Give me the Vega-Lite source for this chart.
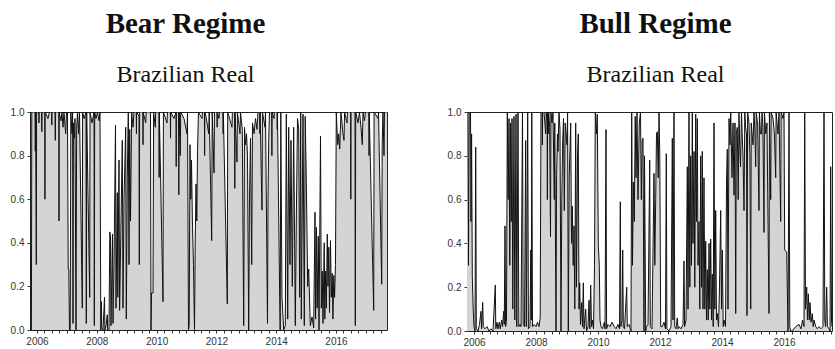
{
  "$schema": "https://vega.github.io/schema/vega-lite/v6.json",
  "background": "white",
  "padding": {"left": 9, "top": 9, "right": 2, "bottom": 0},
  "spacing": 58,
  "config": {
    "view": {"stroke": "#222", "strokeWidth": 1},
    "axis": {"labelFont": "Liberation Sans", "labelFontSize": 10, "labelColor": "#333", "tickColor": "#333", "domain": false, "grid": false, "tickSize": 3, "labelPadding": 3},
    "title": {"font": "Liberation Serif", "fontSize": 29, "fontWeight": "bold", "color": "#111", "subtitleFont": "Liberation Serif", "subtitleFontSize": 24, "subtitleColor": "#111", "subtitlePadding": 24, "offset": 20, "anchor": "middle"}
  },
  "datasets": {
    "bear": [
      {"t":2006.266,"p":1},{"t":2006.279,"p":0},{"t":2006.313,"p":0},{"t":2006.326,"p":1},{"t":2006.433,"p":1},{"t":2006.443,"p":0.82},{"t":2006.453,"p":1},{"t":2006.477,"p":0.3},{"t":2006.487,"p":1},{"t":2006.560,"p":1},{"t":2006.566,"p":0.95},{"t":2006.572,"p":1},{"t":2006.651,"p":1},{"t":2006.661,"p":0.91},{"t":2006.671,"p":1},{"t":2006.760,"p":1},{"t":2006.766,"p":0.6},{"t":2006.772,"p":1},{"t":2006.868,"p":0.97},{"t":2006.918,"p":1},{"t":2006.990,"p":1},{"t":2006.996,"p":0.94},{"t":2007.002,"p":1},{"t":2007.102,"p":1},{"t":2007.112,"p":0.87},{"t":2007.122,"p":1},{"t":2007.230,"p":1},{"t":2007.236,"p":0.5},{"t":2007.242,"p":1},{"t":2007.303,"p":0.96},{"t":2007.336,"p":1},{"t":2007.370,"p":0.93},{"t":2007.403,"p":1},{"t":2007.460,"p":0.9},{"t":2007.487,"p":1},{"t":2007.520,"p":1},{"t":2007.544,"p":0.28},{"t":2007.564,"p":0.28},{"t":2007.587,"p":0},{"t":2007.611,"p":0},{"t":2007.631,"p":1},{"t":2007.671,"p":0.9},{"t":2007.691,"p":1},{"t":2007.704,"p":0.03},{"t":2007.718,"p":0.95},{"t":2007.754,"p":0.88},{"t":2007.771,"p":0.97},{"t":2007.805,"p":0},{"t":2007.825,"p":0.92},{"t":2007.855,"p":1},{"t":2007.888,"p":0.9},{"t":2007.922,"p":1},{"t":2008.015,"p":0.1},{"t":2008.025,"p":1},{"t":2008.072,"p":0.97},{"t":2008.139,"p":1},{"t":2008.149,"p":0.03},{"t":2008.162,"p":1},{"t":2008.263,"p":0.15},{"t":2008.273,"p":1},{"t":2008.340,"p":0.95},{"t":2008.407,"p":1},{"t":2008.417,"p":0.02},{"t":2008.430,"p":1},{"t":2008.473,"p":0.97},{"t":2008.524,"p":1},{"t":2008.574,"p":0.96},{"t":2008.607,"p":1},{"t":2008.634,"p":0},{"t":2008.654,"p":0.13},{"t":2008.667,"p":0.01},{"t":2008.708,"p":0},{"t":2008.758,"p":0.15},{"t":2008.771,"p":0},{"t":2008.808,"p":0.02},{"t":2008.851,"p":0.07},{"t":2008.865,"p":0},{"t":2008.908,"p":0},{"t":2008.935,"p":0.45},{"t":2008.958,"p":0.43},{"t":2008.975,"p":0.02},{"t":2009.025,"p":0.44},{"t":2009.042,"p":0.03},{"t":2009.075,"p":0.3},{"t":2009.126,"p":0.94},{"t":2009.142,"p":0.1},{"t":2009.186,"p":0.63},{"t":2009.202,"p":0.15},{"t":2009.243,"p":0.78},{"t":2009.263,"p":0.09},{"t":2009.310,"p":0.5},{"t":2009.353,"p":0.87},{"t":2009.376,"p":0.1},{"t":2009.410,"p":0.6},{"t":2009.467,"p":0.93},{"t":2009.487,"p":0.05},{"t":2009.520,"p":0.7},{"t":2009.554,"p":1},{"t":2009.577,"p":0.3},{"t":2009.601,"p":0.92},{"t":2009.627,"p":0.5},{"t":2009.667,"p":1},{"t":2009.711,"p":0.93},{"t":2009.744,"p":1},{"t":2009.820,"p":1},{"t":2009.826,"p":0.9},{"t":2009.832,"p":1},{"t":2009.912,"p":0.98},{"t":2009.922,"p":0.3},{"t":2009.932,"p":1},{"t":2010.040,"p":1},{"t":2010.046,"p":0.85},{"t":2010.052,"p":1},{"t":2010.136,"p":0.95},{"t":2010.152,"p":1},{"t":2010.296,"p":1},{"t":2010.313,"p":0},{"t":2010.330,"p":0.17},{"t":2010.380,"p":0.17},{"t":2010.400,"p":1},{"t":2010.457,"p":0.93},{"t":2010.470,"p":1},{"t":2010.580,"p":1},{"t":2010.586,"p":0.7},{"t":2010.592,"p":1},{"t":2010.714,"p":0.13},{"t":2010.728,"p":1},{"t":2010.848,"p":0.95},{"t":2010.865,"p":1},{"t":2010.960,"p":1},{"t":2010.966,"p":0.88},{"t":2010.972,"p":1},{"t":2011.082,"p":0.97},{"t":2011.150,"p":1},{"t":2011.156,"p":0.75},{"t":2011.162,"p":1},{"t":2011.233,"p":1},{"t":2011.243,"p":0.62},{"t":2011.256,"p":1},{"t":2011.293,"p":0.8},{"t":2011.306,"p":1},{"t":2011.417,"p":0.97},{"t":2011.517,"p":0.9},{"t":2011.534,"p":1},{"t":2011.567,"p":0},{"t":2011.590,"p":0.02},{"t":2011.617,"p":0.85},{"t":2011.644,"p":0.6},{"t":2011.667,"p":0.78},{"t":2011.701,"p":0.47},{"t":2011.734,"p":0.3},{"t":2011.768,"p":0},{"t":2011.791,"p":0.4},{"t":2011.818,"p":0.67},{"t":2011.845,"p":0.5},{"t":2011.868,"p":0.82},{"t":2011.901,"p":1},{"t":2012.019,"p":0.97},{"t":2012.035,"p":1},{"t":2012.100,"p":1},{"t":2012.106,"p":0.8},{"t":2012.112,"p":1},{"t":2012.152,"p":0.98},{"t":2012.243,"p":0.9},{"t":2012.259,"p":1},{"t":2012.343,"p":0.41},{"t":2012.360,"p":1},{"t":2012.420,"p":0.72},{"t":2012.437,"p":1},{"t":2012.520,"p":1},{"t":2012.526,"p":0.93},{"t":2012.532,"p":1},{"t":2012.587,"p":0.97},{"t":2012.604,"p":1},{"t":2012.720,"p":1},{"t":2012.726,"p":0.9},{"t":2012.732,"p":1},{"t":2012.865,"p":0.12},{"t":2012.878,"p":1},{"t":2013.022,"p":0.93},{"t":2013.035,"p":1},{"t":2013.110,"p":1},{"t":2013.116,"p":0.65},{"t":2013.122,"p":1},{"t":2013.189,"p":0.77},{"t":2013.203,"p":1},{"t":2013.290,"p":0.9},{"t":2013.306,"p":1},{"t":2013.366,"p":0.92},{"t":2013.413,"p":0.02},{"t":2013.440,"p":0.93},{"t":2013.473,"p":0.85},{"t":2013.507,"p":0.9},{"t":2013.540,"p":0.8},{"t":2013.580,"p":0},{"t":2013.607,"p":0.6},{"t":2013.641,"p":0.88},{"t":2013.681,"p":0.3},{"t":2013.708,"p":0.95},{"t":2013.758,"p":0.9},{"t":2013.808,"p":0.97},{"t":2013.858,"p":0.92},{"t":2013.891,"p":1},{"t":2013.950,"p":1},{"t":2013.956,"p":0.9},{"t":2013.962,"p":1},{"t":2014.025,"p":0.55},{"t":2014.039,"p":1},{"t":2014.126,"p":0.93},{"t":2014.142,"p":1},{"t":2014.209,"p":0.03},{"t":2014.226,"p":0.6},{"t":2014.249,"p":0.87},{"t":2014.276,"p":1},{"t":2014.350,"p":1},{"t":2014.356,"p":0.8},{"t":2014.362,"p":1},{"t":2014.427,"p":0.97},{"t":2014.443,"p":1},{"t":2014.530,"p":1},{"t":2014.536,"p":0.92},{"t":2014.542,"p":1},{"t":2014.617,"p":0.15},{"t":2014.634,"p":0},{"t":2014.654,"p":1},{"t":2014.694,"p":0.15},{"t":2014.751,"p":0},{"t":2014.805,"p":0.02},{"t":2014.838,"p":0.99},{"t":2014.885,"p":0.05},{"t":2014.918,"p":0.93},{"t":2014.962,"p":0.3},{"t":2014.995,"p":0.87},{"t":2015.039,"p":0.2},{"t":2015.085,"p":0.93},{"t":2015.139,"p":0.02},{"t":2015.172,"p":0.5},{"t":2015.213,"p":0.97},{"t":2015.253,"p":0.92},{"t":2015.286,"p":0.15},{"t":2015.320,"p":1},{"t":2015.340,"p":0.05},{"t":2015.397,"p":0.99},{"t":2015.440,"p":0.02},{"t":2015.470,"p":0.98},{"t":2015.507,"p":0.69},{"t":2015.554,"p":0.2},{"t":2015.587,"p":0.28},{"t":2015.641,"p":0.02},{"t":2015.698,"p":0.06},{"t":2015.754,"p":0.01},{"t":2015.798,"p":0.54},{"t":2015.818,"p":0.05},{"t":2015.848,"p":0.47},{"t":2015.871,"p":0.1},{"t":2015.908,"p":0.43},{"t":2015.932,"p":0},{"t":2015.982,"p":0.89},{"t":2016.009,"p":0.1},{"t":2016.039,"p":0.27},{"t":2016.065,"p":0.03},{"t":2016.106,"p":0.4},{"t":2016.126,"p":0.05},{"t":2016.149,"p":0.27},{"t":2016.176,"p":0.1},{"t":2016.209,"p":0.44},{"t":2016.233,"p":0.2},{"t":2016.259,"p":0.38},{"t":2016.283,"p":0.08},{"t":2016.316,"p":0.41},{"t":2016.343,"p":0.15},{"t":2016.373,"p":0.26},{"t":2016.397,"p":0.05},{"t":2016.427,"p":0.25},{"t":2016.453,"p":0.15},{"t":2016.483,"p":0.3},{"t":2016.510,"p":1},{"t":2016.557,"p":0.85},{"t":2016.591,"p":0.9},{"t":2016.624,"p":0.83},{"t":2016.667,"p":1},{"t":2016.734,"p":0.9},{"t":2016.768,"p":0.87},{"t":2016.788,"p":1},{"t":2016.868,"p":0.95},{"t":2016.885,"p":1},{"t":2016.990,"p":1},{"t":2016.996,"p":0.6},{"t":2017.002,"p":1},{"t":2017.136,"p":1},{"t":2017.146,"p":0.02},{"t":2017.159,"p":1},{"t":2017.236,"p":0.95},{"t":2017.286,"p":1},{"t":2017.336,"p":0.93},{"t":2017.380,"p":0.85},{"t":2017.403,"p":1},{"t":2017.453,"p":0.96},{"t":2017.487,"p":1},{"t":2017.600,"p":1},{"t":2017.606,"p":0.8},{"t":2017.612,"p":1},{"t":2017.761,"p":0.09},{"t":2017.774,"p":1},{"t":2017.905,"p":0.97},{"t":2017.922,"p":1},{"t":2018.029,"p":0.21},{"t":2018.045,"p":0.85},{"t":2018.072,"p":1},{"t":2018.106,"p":0.8},{"t":2018.122,"p":1},{"t":2018.206,"p":1}
    ],
    "bull": [
      {"t":2006.274,"p":1},{"t":2006.306,"p":1},{"t":2006.322,"p":0.3},{"t":2006.345,"p":1},{"t":2006.387,"p":1},{"t":2006.403,"p":0.5},{"t":2006.422,"p":0.9},{"t":2006.445,"p":0.25},{"t":2006.474,"p":0.1},{"t":2006.500,"p":0.02},{"t":2006.532,"p":0},{"t":2006.555,"p":0.84},{"t":2006.574,"p":0.01},{"t":2006.629,"p":0},{"t":2006.677,"p":0.03},{"t":2006.726,"p":0.09},{"t":2006.745,"p":0.01},{"t":2006.780,"p":0.13},{"t":2006.800,"p":0.02},{"t":2006.855,"p":0.01},{"t":2006.919,"p":0.02},{"t":2006.984,"p":0},{"t":2007.048,"p":0.01},{"t":2007.113,"p":0},{"t":2007.187,"p":0.21},{"t":2007.203,"p":0.01},{"t":2007.242,"p":0.04},{"t":2007.274,"p":0.01},{"t":2007.316,"p":0.04},{"t":2007.345,"p":0.01},{"t":2007.393,"p":0.05},{"t":2007.419,"p":0.02},{"t":2007.458,"p":0.09},{"t":2007.477,"p":0.03},{"t":2007.500,"p":0.48},{"t":2007.519,"p":0.02},{"t":2007.548,"p":0.05},{"t":2007.574,"p":1},{"t":2007.603,"p":0.6},{"t":2007.629,"p":0.97},{"t":2007.655,"p":0.3},{"t":2007.677,"p":0.95},{"t":2007.703,"p":0.5},{"t":2007.726,"p":0.97},{"t":2007.751,"p":0.1},{"t":2007.790,"p":0.98},{"t":2007.816,"p":0.05},{"t":2007.855,"p":0.99},{"t":2007.880,"p":0.02},{"t":2007.919,"p":1},{"t":2007.945,"p":0.02},{"t":2007.984,"p":0.03},{"t":2008.016,"p":0.02},{"t":2008.064,"p":1},{"t":2008.087,"p":0.03},{"t":2008.129,"p":0.02},{"t":2008.167,"p":0.87},{"t":2008.187,"p":0.02},{"t":2008.232,"p":1},{"t":2008.255,"p":0.01},{"t":2008.306,"p":0.02},{"t":2008.332,"p":0.37},{"t":2008.348,"p":0.05},{"t":2008.364,"p":1},{"t":2008.387,"p":0.02},{"t":2008.445,"p":0.03},{"t":2008.500,"p":0.02},{"t":2008.548,"p":0.04},{"t":2008.597,"p":0.02},{"t":2008.635,"p":0.06},{"t":2008.661,"p":1},{"t":2008.700,"p":1},{"t":2008.706,"p":0.85},{"t":2008.712,"p":1},{"t":2008.758,"p":1},{"t":2008.813,"p":0.9},{"t":2008.829,"p":1},{"t":2008.860,"p":0.95},{"t":2008.866,"p":0.6},{"t":2008.872,"p":1},{"t":2008.897,"p":0.9},{"t":2008.910,"p":1},{"t":2008.940,"p":0.93},{"t":2008.968,"p":0.43},{"t":2008.981,"p":1},{"t":2009.016,"p":0.95},{"t":2009.048,"p":1},{"t":2009.090,"p":0.6},{"t":2009.106,"p":0.95},{"t":2009.145,"p":0},{"t":2009.164,"p":0.71},{"t":2009.193,"p":0.9},{"t":2009.210,"p":0.82},{"t":2009.242,"p":1},{"t":2009.274,"p":0.92},{"t":2009.306,"p":0},{"t":2009.332,"p":0.6},{"t":2009.361,"p":0.87},{"t":2009.387,"p":0.97},{"t":2009.413,"p":0.55},{"t":2009.442,"p":0.95},{"t":2009.500,"p":0.85},{"t":2009.519,"p":1},{"t":2009.542,"p":0},{"t":2009.571,"p":0.7},{"t":2009.619,"p":0.95},{"t":2009.645,"p":0.4},{"t":2009.671,"p":0.57},{"t":2009.700,"p":0.3},{"t":2009.726,"p":0.48},{"t":2009.751,"p":0.1},{"t":2009.780,"p":0.95},{"t":2009.806,"p":0.2},{"t":2009.839,"p":0.8},{"t":2009.864,"p":0.9},{"t":2009.887,"p":0.1},{"t":2009.910,"p":0.22},{"t":2009.935,"p":0.03},{"t":2009.974,"p":0.13},{"t":2010.000,"p":0.02},{"t":2010.026,"p":0.22},{"t":2010.048,"p":0.01},{"t":2010.103,"p":0.1},{"t":2010.129,"p":0},{"t":2010.177,"p":0.02},{"t":2010.210,"p":0.14},{"t":2010.235,"p":0.01},{"t":2010.264,"p":0.21},{"t":2010.290,"p":0.02},{"t":2010.316,"p":0.05},{"t":2010.355,"p":0.01},{"t":2010.387,"p":0.3},{"t":2010.413,"p":1},{"t":2010.451,"p":0.9},{"t":2010.477,"p":0.99},{"t":2010.510,"p":0.39},{"t":2010.542,"p":0.3},{"t":2010.564,"p":0.05},{"t":2010.597,"p":0.02},{"t":2010.645,"p":0.01},{"t":2010.703,"p":0.04},{"t":2010.726,"p":0.01},{"t":2010.758,"p":0.92},{"t":2010.777,"p":0.01},{"t":2010.822,"p":0.03},{"t":2010.887,"p":0.02},{"t":2010.951,"p":0.04},{"t":2011.026,"p":0.02},{"t":2011.081,"p":0.01},{"t":2011.145,"p":0.03},{"t":2011.193,"p":0.01},{"t":2011.219,"p":0.59},{"t":2011.239,"p":0.02},{"t":2011.274,"p":0.05},{"t":2011.297,"p":0.37},{"t":2011.316,"p":0.02},{"t":2011.355,"p":0.01},{"t":2011.426,"p":0.2},{"t":2011.445,"p":0.02},{"t":2011.500,"p":0.03},{"t":2011.564,"p":0},{"t":2011.587,"p":1},{"t":2011.613,"p":0.3},{"t":2011.639,"p":0.68},{"t":2011.671,"p":0.5},{"t":2011.700,"p":0.98},{"t":2011.726,"p":0.7},{"t":2011.758,"p":1},{"t":2011.790,"p":0.6},{"t":2011.832,"p":0.95},{"t":2011.871,"p":1},{"t":2011.897,"p":0.6},{"t":2011.926,"p":0.87},{"t":2011.951,"p":0.88},{"t":2011.984,"p":0},{"t":2012.000,"p":0.8},{"t":2012.039,"p":0},{"t":2012.064,"p":0.02},{"t":2012.113,"p":0.03},{"t":2012.168,"p":0.78},{"t":2012.187,"p":0.02},{"t":2012.242,"p":0.01},{"t":2012.306,"p":0.72},{"t":2012.332,"p":0.3},{"t":2012.361,"p":0.6},{"t":2012.387,"p":0.9},{"t":2012.413,"p":0.91},{"t":2012.442,"p":0.7},{"t":2012.468,"p":1},{"t":2012.493,"p":0.8},{"t":2012.522,"p":0.02},{"t":2012.574,"p":0.02},{"t":2012.629,"p":0.04},{"t":2012.677,"p":0.01},{"t":2012.703,"p":0.81},{"t":2012.722,"p":0.01},{"t":2012.790,"p":0},{"t":2012.855,"p":0.02},{"t":2012.897,"p":0.88},{"t":2012.919,"p":0.05},{"t":2012.951,"p":1},{"t":2012.974,"p":0.02},{"t":2013.016,"p":0.01},{"t":2013.058,"p":0.06},{"t":2013.081,"p":0.01},{"t":2013.113,"p":0.02},{"t":2013.177,"p":0.01},{"t":2013.242,"p":0.03},{"t":2013.274,"p":0.32},{"t":2013.293,"p":0.02},{"t":2013.339,"p":0.05},{"t":2013.381,"p":0.75},{"t":2013.403,"p":0.1},{"t":2013.435,"p":1},{"t":2013.461,"p":0.2},{"t":2013.490,"p":0.8},{"t":2013.516,"p":0.3},{"t":2013.542,"p":1},{"t":2013.564,"p":0.4},{"t":2013.597,"p":0.82},{"t":2013.622,"p":0.2},{"t":2013.651,"p":0.99},{"t":2013.677,"p":0.5},{"t":2013.703,"p":0.97},{"t":2013.726,"p":0.3},{"t":2013.758,"p":0.5},{"t":2013.784,"p":0.1},{"t":2013.813,"p":0.8},{"t":2013.839,"p":0.2},{"t":2013.864,"p":0.82},{"t":2013.887,"p":0.1},{"t":2013.919,"p":0.7},{"t":2013.945,"p":0.1},{"t":2013.974,"p":0.41},{"t":2014.000,"p":0.05},{"t":2014.026,"p":0.28},{"t":2014.055,"p":0.05},{"t":2014.081,"p":0.4},{"t":2014.106,"p":0.1},{"t":2014.135,"p":0.42},{"t":2014.161,"p":0.05},{"t":2014.187,"p":0.26},{"t":2014.216,"p":0.02},{"t":2014.242,"p":0.95},{"t":2014.268,"p":0.1},{"t":2014.297,"p":0.55},{"t":2014.322,"p":0.05},{"t":2014.348,"p":0.08},{"t":2014.387,"p":0.02},{"t":2014.419,"p":0.2},{"t":2014.458,"p":0.55},{"t":2014.484,"p":0.1},{"t":2014.510,"p":0.37},{"t":2014.539,"p":0.02},{"t":2014.564,"p":0.05},{"t":2014.613,"p":0.02},{"t":2014.645,"p":0.67},{"t":2014.671,"p":0.83},{"t":2014.693,"p":0.1},{"t":2014.726,"p":0.97},{"t":2014.758,"p":0.85},{"t":2014.781,"p":1},{"t":2014.822,"p":0.7},{"t":2014.855,"p":0.95},{"t":2014.887,"p":0.62},{"t":2014.919,"p":0.95},{"t":2014.942,"p":0.08},{"t":2014.961,"p":0.9},{"t":2014.993,"p":0.93},{"t":2015.022,"p":0.6},{"t":2015.048,"p":1},{"t":2015.070,"p":0.85},{"t":2015.097,"p":0.75},{"t":2015.129,"p":1},{"t":2015.150,"p":0.9},{"t":2015.177,"p":0.8},{"t":2015.210,"p":0.55},{"t":2015.235,"p":1},{"t":2015.260,"p":0.93},{"t":2015.290,"p":0.9},{"t":2015.306,"p":0.07},{"t":2015.326,"p":1},{"t":2015.371,"p":0.95},{"t":2015.400,"p":0.8},{"t":2015.426,"p":0.1},{"t":2015.442,"p":0.95},{"t":2015.470,"p":0.9},{"t":2015.500,"p":0.85},{"t":2015.532,"p":1},{"t":2015.560,"p":0.92},{"t":2015.587,"p":0.75},{"t":2015.603,"p":1},{"t":2015.650,"p":0.94},{"t":2015.693,"p":0.55},{"t":2015.706,"p":1},{"t":2015.740,"p":0.9},{"t":2015.774,"p":0.9},{"t":2015.790,"p":1},{"t":2015.820,"p":0.93},{"t":2015.855,"p":0.45},{"t":2015.868,"p":1},{"t":2015.910,"p":0.9},{"t":2015.951,"p":0.95},{"t":2016.016,"p":0.08},{"t":2016.029,"p":1},{"t":2016.071,"p":0.6},{"t":2016.084,"p":1},{"t":2016.145,"p":0.97},{"t":2016.190,"p":0.9},{"t":2016.232,"p":0.7},{"t":2016.245,"p":1},{"t":2016.306,"p":0.9},{"t":2016.339,"p":1},{"t":2016.393,"p":0.5},{"t":2016.406,"p":1},{"t":2016.468,"p":0.97},{"t":2016.500,"p":1},{"t":2016.522,"p":0.37},{"t":2016.587,"p":0.36},{"t":2016.629,"p":0},{"t":2016.661,"p":1},{"t":2016.687,"p":0.02},{"t":2016.716,"p":0},{"t":2016.768,"p":0},{"t":2016.877,"p":0.02},{"t":2016.984,"p":0.03},{"t":2017.048,"p":0.01},{"t":2017.097,"p":0.05},{"t":2017.145,"p":0.02},{"t":2017.168,"p":1},{"t":2017.193,"p":0.1},{"t":2017.232,"p":0.2},{"t":2017.258,"p":0.05},{"t":2017.284,"p":0.17},{"t":2017.313,"p":0.05},{"t":2017.339,"p":0.13},{"t":2017.371,"p":0.04},{"t":2017.413,"p":0.08},{"t":2017.442,"p":0.02},{"t":2017.468,"p":0.05},{"t":2017.522,"p":0.02},{"t":2017.574,"p":0.01},{"t":2017.629,"p":0.02},{"t":2017.693,"p":0.01},{"t":2017.758,"p":0.02},{"t":2017.790,"p":1},{"t":2017.816,"p":0.05},{"t":2017.842,"p":0.02},{"t":2017.877,"p":0.2},{"t":2017.900,"p":0.02},{"t":2017.951,"p":0.01},{"t":2017.984,"p":0},{"t":2018.006,"p":0.75},{"t":2018.032,"p":0.05},{"t":2018.048,"p":0.02}
    ]
  },
  "hconcat": [
    {
      "width": 357,
      "height": 218,
      "title": {"text": "Bear Regime", "subtitle": "Brazilian Real", "dx": -23},
      "data": {"name": "bear"},
      "encoding": {
        "x": {"field": "t", "type": "quantitative", "scale": {"domain": [2006.266, 2018.206], "nice": false, "zero": false},
          "axis": {"title": null, "values": [2006.5,2006.75,2007,2007.25,2007.5,2007.75,2008,2008.25,2008.5,2008.75,2009,2009.25,2009.5,2009.75,2010,2010.25,2010.5,2010.75,2011,2011.25,2011.5,2011.75,2012,2012.25,2012.5,2012.75,2013,2013.25,2013.5,2013.75,2014,2014.25,2014.5,2014.75,2015,2015.25,2015.5,2015.75,2016,2016.25,2016.5,2016.75,2017,2017.25,2017.5,2017.75,2018],
            "labelExpr": "(datum.value % 1 == 0.5 && floor(datum.value) % 2 == 0) ? '' + floor(datum.value) : ''", "labelOverlap": false, "labelFlush": false}},
        "y": {"field": "p", "type": "quantitative", "scale": {"domain": [0, 1], "nice": false},
          "axis": {"title": null, "values": [0, 0.2, 0.4, 0.6, 0.8, 1], "format": ".1f"}}
      },
      "layer": [
        {"mark": {"type": "area", "color": "#d4d4d4", "clip": true}},
        {"mark": {"type": "line", "color": "#111", "strokeWidth": 1, "clip": true}}
      ]
    },
    {
      "width": 365,
      "height": 219,
      "title": {"text": "Bull Regime", "subtitle": "Brazilian Real", "dx": 6},
      "data": {"name": "bull"},
      "encoding": {
        "x": {"field": "t", "type": "quantitative", "scale": {"domain": [2006.274, 2018.048], "nice": false, "zero": false},
          "axis": {"title": null, "values": [2006.5,2006.75,2007,2007.25,2007.5,2007.75,2008,2008.25,2008.5,2008.75,2009,2009.25,2009.5,2009.75,2010,2010.25,2010.5,2010.75,2011,2011.25,2011.5,2011.75,2012,2012.25,2012.5,2012.75,2013,2013.25,2013.5,2013.75,2014,2014.25,2014.5,2014.75,2015,2015.25,2015.5,2015.75,2016,2016.25,2016.5,2016.75,2017,2017.25,2017.5,2017.75,2018],
            "labelExpr": "(datum.value % 1 == 0.5 && floor(datum.value) % 2 == 0) ? '' + floor(datum.value) : ''", "labelOverlap": false, "labelFlush": false}},
        "y": {"field": "p", "type": "quantitative", "scale": {"domain": [0, 1], "nice": false},
          "axis": {"title": null, "values": [0, 0.2, 0.4, 0.6, 0.8, 1], "format": ".1f"}}
      },
      "layer": [
        {"mark": {"type": "area", "color": "#d4d4d4", "clip": true}},
        {"mark": {"type": "line", "color": "#111", "strokeWidth": 1, "clip": true}}
      ]
    }
  ]
}
